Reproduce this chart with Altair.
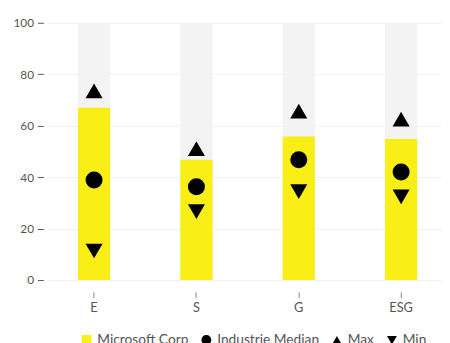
import altair as alt
import pandas as pd

categories = ["E", "S", "G", "ESG"]
company = [67.0, 46.8, 55.8, 54.8]
median = [38.9, 36.3, 46.8, 42.0]
max_vals = [73.5, 51.1, 65.7, 62.6]
min_vals = [11.3, 26.6, 34.4, 32.3]
full = [100, 100, 100, 100]
series = ["Microsoft Corp", "Industrie Median", "Max", "Min"]

bg_df = pd.DataFrame({"cat": categories, "value": full})
bar_df = pd.DataFrame({"cat": categories, "value": company, "series": series[0]})
pts_df = pd.concat([
    pd.DataFrame({"cat": categories, "value": median, "series": series[1]}),
    pd.DataFrame({"cat": categories, "value": max_vals, "series": series[2]}),
    pd.DataFrame({"cat": categories, "value": min_vals, "series": series[3]}),
])

FONT = "Lato"
x = alt.X("cat:N", sort=categories, title=None,
          scale=alt.Scale(paddingInner=0.685, paddingOuter=0.29, range=[5, 411]),
          axis=alt.Axis(labelAngle=0, domain=False, ticks=True, tickSize=6, tickColor="#888",
                        offset=12, labelPadding=4, labelColor="#555", labelFontSize=13,
                        labelFont=FONT, grid=False))
y = alt.Y("value:Q", title=None,
          scale=alt.Scale(domain=[0, 100]),
          axis=alt.Axis(values=[0, 20, 40, 60, 80, 100], domain=False, tickSize=6,
                        tickColor="#555", labelPadding=4, labelColor="#555",
                        labelFontSize=12, labelFont=FONT, gridColor="#f0f0f0"))

color_scale = alt.Scale(domain=series, range=["#f9ee16", "#000000", "#000000", "#000000"])
shape_scale = alt.Scale(domain=series, range=["square", "circle", "triangle-up", "triangle-down"])
legend = alt.Legend(title=None, orient="none", legendX=37, legendY=316,
                    direction="horizontal", labelFont=FONT,
                    labelFontSize=14, labelColor="#555", symbolSize=100, symbolOpacity=1,
                    columnPadding=10)

bg = alt.Chart(bg_df).mark_bar(color="#f3f3f3").encode(x=x, y=y)
bars = alt.Chart(bar_df).mark_bar().encode(
    x=x, y=y, color=alt.Color("series:N", scale=color_scale, legend=legend))
pts = alt.Chart(pts_df).mark_point(filled=True, size=300, opacity=1).encode(
    x=x, y=y,
    color=alt.Color("series:N", scale=color_scale, legend=legend),
    shape=alt.Shape("series:N", scale=shape_scale, legend=legend))

chart = alt.layer(bg, bars, pts).properties(
    width=406, height=262,
    autosize=alt.AutoSizeParams(type="none"),
    padding={"left": 36, "top": 12, "right": 0, "bottom": 61},
).configure_view(stroke=None)

chart.save("out.html", embed_options={"renderer": "svg", "actions": False})
